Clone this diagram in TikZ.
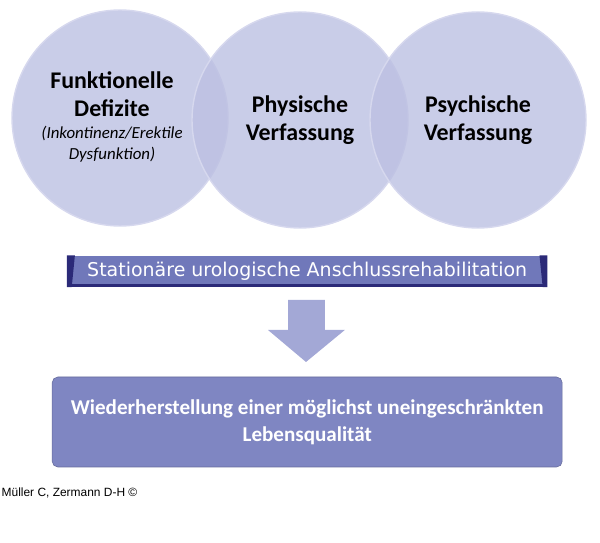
\documentclass[tikz,border=0pt]{standalone}
\usepackage{fontspec}
\setmainfont{Carlito}
\newfontfamily\bannerfont{DejaVu Sans}
\newfontfamily\footfont{Liberation Sans}
\usetikzlibrary{positioning}
\definecolor{orbfill}{HTML}{BCC0E2}
\definecolor{orbline}{HTML}{D6D8EE}
\definecolor{bandfill}{HTML}{7078BA}
\definecolor{bandedge}{HTML}{2B2A78}
\definecolor{goalfill}{HTML}{7F86C2}
\definecolor{arrowfill}{HTML}{A3A8D6}
\tikzset{
  orb/.style={circle,minimum size=5.4cm,fill=orbfill,fill opacity=0.8,text opacity=1,draw=orbline,line width=1pt,align=center,font=\bfseries\fontsize{17}{20}\selectfont},
  band/.style={minimum width=12cm,minimum height=0.78cm,fill=bandfill,text=white,font=\bannerfont\fontsize{13.5}{15}\selectfont},
  goal/.style={rounded corners=4pt,minimum width=12.75cm,minimum height=2.25cm,fill=goalfill,draw=goalfill!80!black,text=white,align=center,font=\bfseries\fontsize{15}{19}\selectfont}
}
\begin{document}
\begin{tikzpicture}[x=1cm,y=1cm]
    \useasboundingbox (0,0) rectangle (15,-13.575);
    \node[orb](o1) at (3,-2.95) {};
    \node[orb](o2) at (7.5,-3) {Physische\\Verfassung};
    \node[orb](o3) at (11.95,-3.0) {Psychische\\Verfassung};
    \node[align=center,font=\bfseries\fontsize{17}{20}\selectfont](t1) at (2.8,-2.35) {Funktionelle\\Defizite};
    \node[below=0pt of t1,align=center,font=\itshape\fontsize{12}{15}\selectfont](s1) {(Inkontinenz/Erektile\\Dysfunktion)};
    \node[band](b1) at (7.68,-6.78) {Stationäre urologische Anschlussrehabilitation};
    \fill[bandedge] (b1.north west) -- ++(0.2,0) -- ([xshift=0.12cm]b1.south west) -- (b1.south west) -- cycle;
    \fill[bandedge] (b1.north east) -- ++(-0.2,0) -- ([xshift=-0.12cm]b1.south east) -- (b1.south east) -- cycle;
    \fill[bandedge] (b1.south west) rectangle ([yshift=0.07cm]b1.south east);
    % arrow
    \coordinate (a1) at (7.65,-7.5);
    \fill[arrowfill] ([xshift=-0.45cm]a1) -- ++(0.92,0) -- ++(0,-0.75) -- ++(0.5,0) -- (7.65,-9.05)
        -- (6.7,-8.25) -- ++(0.5,0) -- cycle;
    \node[goal](g1) at (7.68,-10.55) {Wiederherstellung einer möglichst uneingeschränkten\\Lebensqualität};
    \node[anchor=west,inner sep=1pt,font=\footfont\fontsize{8.5}{10}\selectfont](f1) at (0,-12.33) {Müller C, Zermann D-H ©};
\end{tikzpicture}
\end{document}
